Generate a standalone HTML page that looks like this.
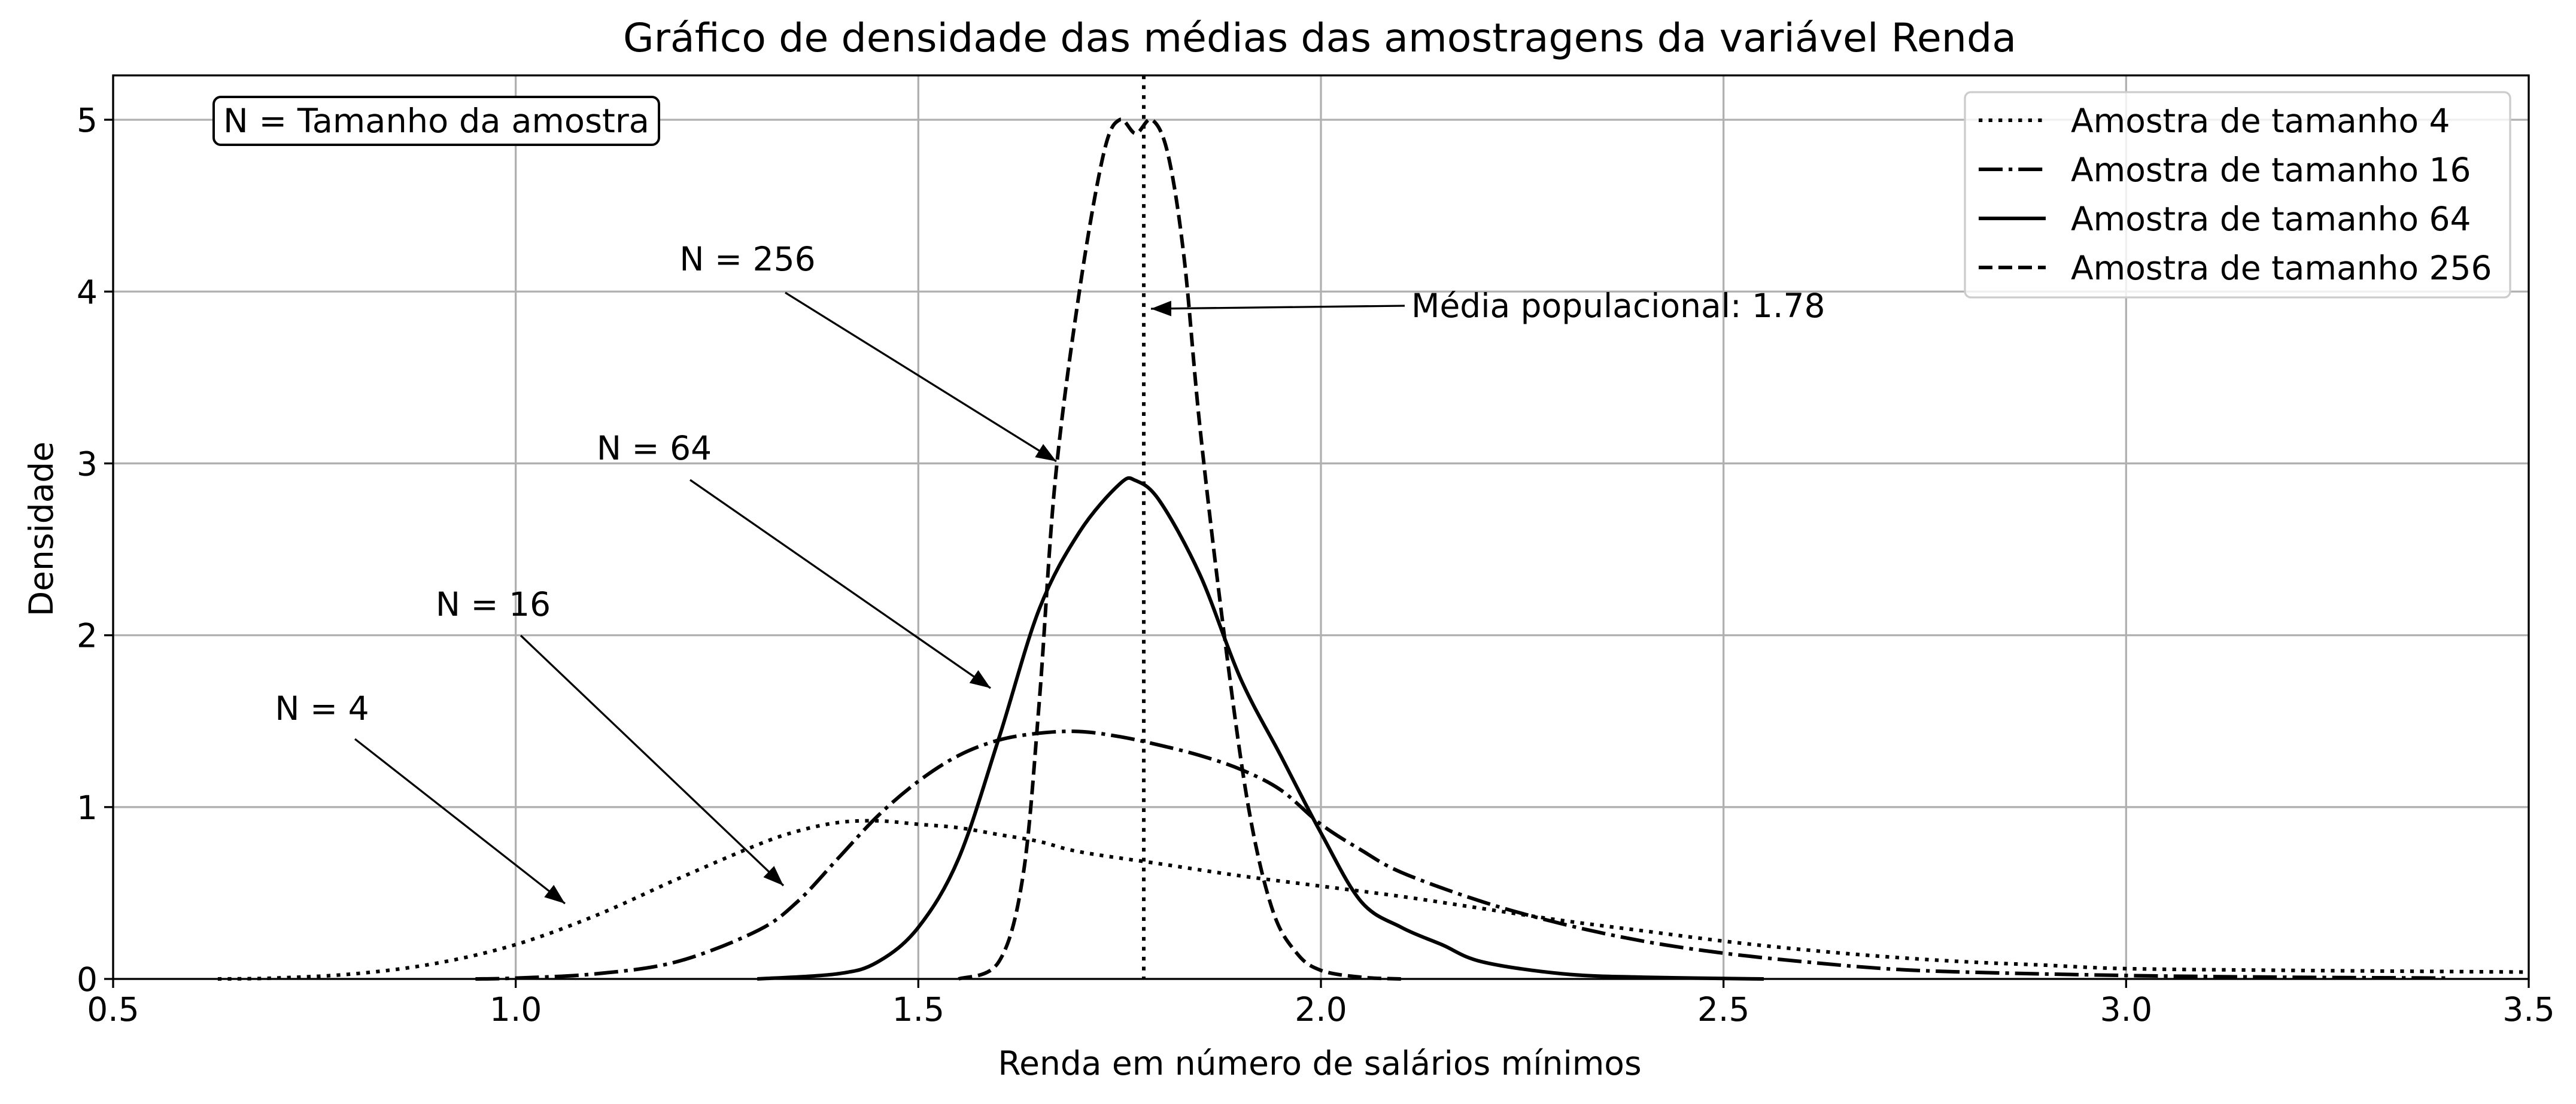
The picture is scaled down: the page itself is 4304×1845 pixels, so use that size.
<!DOCTYPE html>
<html><head><meta charset="utf-8"><style>
html,body{margin:0;padding:0;background:#fff}
svg{display:block;font-family:"DejaVu Sans","Liberation Sans",sans-serif}
</style></head><body>
<svg id="chart" width="4304" height="1845" viewBox="0 0 4304 1845" xmlns="http://www.w3.org/2000/svg">
<rect x="0" y="0" width="4304" height="1845" fill="#fff"/>
<g id="grid"></g>
<g id="series"></g>
<g id="axes"></g>
<text x="2205" y="86" font-size="66" text-anchor="middle" textLength="2328" lengthAdjust="spacingAndGlyphs">Gráfico de densidade das médias das amostragens da variável Renda</text>
<text x="2205" y="1796" font-size="55" text-anchor="middle">Renda em número de salários mínimos</text>
<text x="0" y="0" font-size="55" text-anchor="middle" transform="translate(88,884) rotate(-90)">Densidade</text>
<g>
<rect x="357" y="162" width="744" height="80" rx="12" fill="#fff" stroke="#000" stroke-width="4"/>
<text x="729" y="221" font-size="55" text-anchor="middle" textLength="712" lengthAdjust="spacingAndGlyphs">N = Tamanho da amostra</text>
</g>
<defs><marker id="ah" markerWidth="34" markerHeight="26" refX="34" refY="13" orient="auto" markerUnits="userSpaceOnUse" viewBox="0 0 34 26"><path d="M0,0 L34,13 L0,26 z" fill="#000"/></marker></defs>
<g id="annots"></g>
<g id="legend"></g>
</svg>
<script>
const xTicks=[0.5,1.0,1.5,2.0,2.5,3.0,3.5];
const xTickLabels=["0.5","1.0","1.5","2.0","2.5","3.0","3.5"];
const yTicks=[0,1,2,3,4,5];
const yTickLabels=["0","1","2","3","4","5"];
const popMean=1.78;
const x4=[0.63,0.7,0.8,0.9,1.0,1.1,1.2,1.3,1.35,1.4,1.45,1.5,1.55,1.6,1.65,1.7,1.8,1.9,2.0,2.1,2.2,2.3,2.4,2.5,2.6,2.7,2.8,2.9,3.0,3.2,3.5];
const y4=[0,0.005,0.03,0.09,0.2,0.37,0.58,0.78,0.86,0.91,0.92,0.9,0.88,0.84,0.8,0.74,0.67,0.6,0.54,0.48,0.41,0.34,0.28,0.22,0.17,0.13,0.1,0.08,0.06,0.05,0.04];
const x16=[0.95,1.0,1.1,1.2,1.3,1.35,1.4,1.45,1.5,1.55,1.6,1.65,1.7,1.75,1.8,1.85,1.9,1.95,2.0,2.05,2.1,2.2,2.3,2.4,2.5,2.6,2.7,2.8,3.0,3.2,3.4];
const y16=[0,0.005,0.03,0.1,0.28,0.45,0.7,0.95,1.15,1.3,1.39,1.43,1.44,1.41,1.36,1.3,1.22,1.1,0.9,0.75,0.62,0.45,0.32,0.22,0.15,0.1,0.06,0.04,0.02,0.01,0.005];
const x64=[1.3,1.4,1.45,1.5,1.55,1.6,1.65,1.7,1.75,1.77,1.8,1.85,1.9,1.95,2.0,2.05,2.1,2.15,2.2,2.3,2.4,2.55];
const y64=[0,0.03,0.1,0.3,0.7,1.4,2.15,2.6,2.88,2.9,2.78,2.35,1.75,1.3,0.85,0.45,0.3,0.2,0.1,0.03,0.01,0];
const x256=[1.55,1.6,1.63,1.65,1.67,1.7,1.73,1.75,1.77,1.79,1.81,1.83,1.85,1.88,1.91,1.94,1.97,2.0,2.05,2.1];
const y256=[0,0.1,0.6,1.6,2.9,4.0,4.8,5.0,4.92,5.0,4.8,4.2,3.2,2.0,1.0,0.4,0.15,0.05,0.01,0];
const legendLabels=["Amostra de tamanho 4","Amostra de tamanho 16","Amostra de tamanho 64","Amostra de tamanho 256"];

const L=189,R=4225,T=126,B=1636;
const xMin=0.5,xMax=3.5,yMin=0,yMax=5.258;
function sx(v){return L+(v-xMin)/(xMax-xMin)*(R-L);}
function sy(v){return B-(v-yMin)/(yMax-yMin)*(B-T);}
const NS="http://www.w3.org/2000/svg";
function mk(tag,attrs,parent){const e=document.createElementNS(NS,tag);for(const k in attrs)e.setAttribute(k,attrs[k]);parent.appendChild(e);return e;}
const grid=document.getElementById('grid'),axes=document.getElementById('axes'),series=document.getElementById('series');
xTicks.forEach((t,i)=>{
  const g=mk('line',{x1:sx(t),x2:sx(t),y1:T,y2:B,stroke:'#b0b0b0','stroke-width':3.3},grid);
  
  
  const tk=mk('line',{x1:sx(t),x2:sx(t),y1:B,y2:B+15,stroke:'#000','stroke-width':3.3},axes);
  
  
  const lb=mk('text',{x:sx(t),y:B+70,'font-size':55,'text-anchor':'middle'},axes);
  lb.textContent=xTickLabels[i];
  
  
});
yTicks.forEach((t,i)=>{
  const g=mk('line',{x1:L,x2:R,y1:sy(t),y2:sy(t),stroke:'#b0b0b0','stroke-width':3.3},grid);
  
  
  const tk=mk('line',{x1:L-15,x2:L,y1:sy(t),y2:sy(t),stroke:'#000','stroke-width':3.3},axes);
  
  
  const lb=mk('text',{x:L-26,y:sy(t)+20,'font-size':55,'text-anchor':'end'},axes);
  lb.textContent=yTickLabels[i];
  
  
});
const frame=mk('rect',{x:L,y:T,width:R-L,height:B-T,fill:'none',stroke:'#000','stroke-width':3.3},axes);



function curve(xs,ys){
  const p=xs.map((x,i)=>[sx(x),sy(ys[i])]);
  let d='M'+p[0][0]+','+p[0][1];
  for(let i=0;i<p.length-1;i++){
    const p0=p[i-1]||p[i],p1=p[i],p2=p[i+1],p3=p[i+2]||p2;
    const c1=[p1[0]+(p2[0]-p0[0])/6,p1[1]+(p2[1]-p0[1])/6];
    const c2=[p2[0]-(p3[0]-p1[0])/6,p2[1]-(p3[1]-p1[1])/6];
    d+=' C'+c1[0]+','+c1[1]+' '+c2[0]+','+c2[1]+' '+p2[0]+','+p2[1];
  }
  return d;
}
const dashes=['6.25,10.3','40,10,6.25,10','none','23,10'];
const sets=[[x4,y4],[x16,y16],[x64,y64],[x256,y256]];
const names=['density-n4','density-n16','density-n64','density-n256'];
sets.forEach((s,i)=>{
  const a={d:curve(s[0],s[1]),fill:'none',stroke:'#000','stroke-width':6};
  if(dashes[i]!=='none')a['stroke-dasharray']=dashes[i];
  const p=mk('path',a,series);
  
  
});
const ml=mk('line',{x1:sx(popMean),x2:sx(popMean),y1:T,y2:B,stroke:'#000','stroke-width':6,'stroke-dasharray':'6.25,10.3'},series);



const an=document.getElementById('annots');
const notes=[
 ["N = 256",1249,452,1312,489,1765,771],
 ["N = 64",1093,768,1153,802,1655,1150],
 ["N = 16",824,1029,870,1062,1309,1480],
 ["N = 4",538,1203,593,1235,944,1510]];
notes.forEach(n=>{
  const t=mk('text',{x:n[1],y:n[2],'font-size':55,'text-anchor':'middle'},an);
  t.textContent=n[0];
  
  
  const l=mk('line',{x1:n[3],y1:n[4],x2:n[5],y2:n[6],stroke:'#000','stroke-width':3.3,'marker-end':'url(#ah)'},an);
  
  
});
const mt=mk('text',{x:2358,y:530,'font-size':55},an);
mt.textContent='Média populacional: 1.78';


const ma=mk('line',{x1:2347,y1:511,x2:sx(popMean)+12,y2:516,stroke:'#000','stroke-width':3.3,'marker-end':'url(#ah)'},an);



const lg=document.getElementById('legend');
const lb=mk('rect',{x:3283,y:154,width:911,height:343,rx:10,fill:'#fff','fill-opacity':0.8,stroke:'#ccc','stroke-width':3.3},lg);


legendLabels.forEach((s,i)=>{
  const y=201+i*82;
  const a={x1:3306,x2:3418,y1:y,y2:y,stroke:'#000','stroke-width':6};
  if(dashes[i]!=='none')a['stroke-dasharray']=dashes[i];
  const l=mk('line',a,lg);
  
  
  const t=mk('text',{x:3460,y:y+20,'font-size':55},lg);
  t.textContent=s;
  
  
});
</script>
</body></html>
